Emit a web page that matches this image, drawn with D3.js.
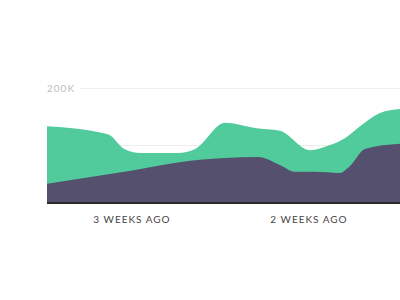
<!DOCTYPE html>
<html>
<head>
<meta charset="utf-8">
<script src="https://cdn.jsdelivr.net/npm/d3@7"></script>
<style>
  body { margin: 0; background: #fff; }
  .chart { width: 400px; height: 300px; }
  text { font-family: Lato, "Open Sans", sans-serif; }
</style>
</head>
<body>
<div class="chart"></div>
<script>
/* data: x = days ago, values in thousands */
var totalDays = [24.36, 21.95, 21.3, 20.68, 19.18, 18.5, 17.32, 16.14, 15.15, 13.96, 13.17, 12.58, 11.98, 11.19, 10.4];
var totalVals = [133, 119, 93, 86, 86, 93, 139, 130, 125, 91, 100, 112, 133, 156, 163];

var baseDays = [24.36, 21.3, 18.31, 17.32, 16.02, 15.15, 14.55, 13.76, 12.78, 12.38, 11.79, 10.4];
var baseVals = [32, 53, 74, 77, 79, 65, 53, 53, 51, 63, 93, 102];

var gridTicks = [100, 200];
var weekTicks = [21, 14];
var weekLabels = ["3 WEEKS AGO", "2 WEEKS AGO"];

var target = document.querySelector(".chart");

var margin = { top: 0, right: 0, bottom: 0, left: 47 };
var width = 400 - margin.left - margin.right;

// scales
var xScale = d3.scaleLinear().domain([24.36, 10.4]).range([0, width]);
var yScale = d3.scaleLinear().domain([0, 200]).range([202, 88]);

var theSvg = d3.select(target).append("svg")
    .attr("width", 400)
    .attr("height", 300)
    .append("g")
    .attr("transform", "translate(" + margin.left + "," + margin.top + ")");

// grid lines + labels (behind the areas)
var grid = theSvg.append("g").attr("class", "grid");
grid.selectAll("line")
    .data(gridTicks)
    .enter().append("line")
    .attr("x1", 33)
    .attr("x2", width)
    .attr("y1", function(d) { return yScale(d) + 0.5; })
    .attr("y2", function(d) { return yScale(d) + 0.5; })
    .attr("stroke", "#ececec")
    .attr("stroke-width", 1);

grid.selectAll("text")
    .data(gridTicks)
    .enter().append("text")
    .attr("x", 0)
    .attr("y", function(d) { return yScale(d); })
    .attr("dy", "0.36em")
    .attr("fill", "#bcbcbc")
    .attr("font-size", 10)
    .attr("letter-spacing", 1)
    .text(function(d) { return d + "K"; });

function series(days, vals) {
    return days.map(function(d, i) { return { day: d, v: vals[i] }; });
}

var area = d3.area()
    .x(function(d) { return xScale(d.day); })
    .y0(yScale(0))
    .y1(function(d) { return yScale(d.v); })
    .curve(d3.curveMonotoneX);

theSvg.append("path")
    .datum(series(totalDays, totalVals))
    .attr("fill", "#52cb9c")
    .attr("d", area);

theSvg.append("path")
    .datum(series(baseDays, baseVals))
    .attr("fill", "#55506d")
    .attr("d", area);

// baseline
theSvg.append("line")
    .attr("x1", 0)
    .attr("x2", width)
    .attr("y1", yScale(0) + 1)
    .attr("y2", yScale(0) + 1)
    .attr("stroke", "#2a2a2a")
    .attr("stroke-width", 2);

// week labels
theSvg.selectAll(".week")
    .data(weekTicks)
    .enter().append("text")
    .attr("class", "week")
    .attr("x", function(d) { return xScale(d); })
    .attr("y", 223)
    .attr("text-anchor", "middle")
    .attr("fill", "#444")
    .attr("font-size", 10)
    .attr("letter-spacing", 1)
    .text(function(d, i) { return weekLabels[i]; });
</script>
</body>
</html>
